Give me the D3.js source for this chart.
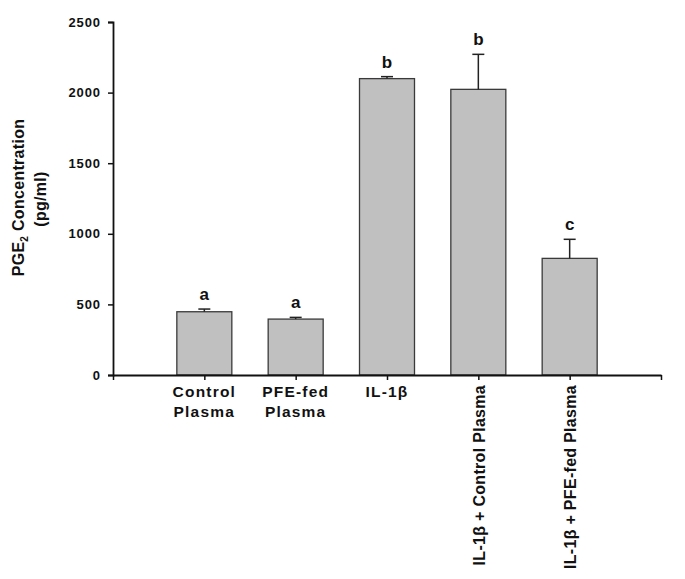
<!DOCTYPE html>
<html>
<head>
<meta charset="utf-8">
<script src="https://cdn.jsdelivr.net/npm/d3@7"></script>
<style>
  html, body { margin: 0; padding: 0; background: #fff; }
  svg { display: block; }
  text { font-family: "Liberation Sans", Arial, sans-serif; font-weight: bold; fill: #111; }
</style>
</head>
<body>
<svg id="chart" width="685" height="579"></svg>
<script>
// ---- data ----
const categories = ["Control Plasma", "PFE-fed Plasma", "IL-1β", "IL-1β + Control Plasma", "IL-1β + PFE-fed Plasma"];
const labelLines = [["Control", "Plasma"], ["PFE-fed", "Plasma"], ["IL-1β"], ["IL-1β + Control Plasma"], ["IL-1β + PFE-fed Plasma"]];
const values = [448, 396, 2099, 2023, 826];
const errors = [19, 12, 14, 248, 135];
const letters = ["a", "a", "b", "b", "c"];
const yTicks = [0, 500, 1000, 1500, 2000, 2500];
const yTitle = ["PGE", "2", " Concentration"];
const yUnits = "(pg/ml)";

// ---- layout ----
const svg = d3.select("#chart");
const x0 = 113, x1 = 661, yBase = 375, yTop = 22;
const x = d3.scaleLinear().domain([0, categories.length + 1]).range([x0, x1]);
const y = d3.scaleLinear().domain([0, 2500]).range([yBase, yTop]);
const barW = 55, capW = 12;

const data = categories.map((c, i) => ({c, i, v: values[i], e: errors[i], l: letters[i], lines: labelLines[i]}));

// bars
svg.append("g").selectAll("rect").data(data).join("rect")
  .attr("x", d => x(d.i + 1) - barW / 2)
  .attr("y", d => y(d.v))
  .attr("width", barW)
  .attr("height", d => y(0) - y(d.v))
  .attr("fill", "#c0c0c0")
  .attr("stroke", "#3a3a3a")
  .attr("stroke-width", 1.3);

// error bars (upper only)
const eg = svg.append("g").attr("stroke", "#222").attr("stroke-width", 1.5);
eg.selectAll("line.v").data(data).join("line").attr("class", "v")
  .attr("x1", d => x(d.i + 1)).attr("x2", d => x(d.i + 1))
  .attr("y1", d => y(d.v)).attr("y2", d => y(d.v + d.e));
eg.selectAll("line.c").data(data).join("line").attr("class", "c")
  .attr("x1", d => x(d.i + 1) - capW / 2).attr("x2", d => x(d.i + 1) + capW / 2)
  .attr("y1", d => y(d.v + d.e)).attr("y2", d => y(d.v + d.e));

// significance letters
svg.append("g").selectAll("text").data(data).join("text")
  .attr("x", d => x(d.i + 1))
  .attr("y", d => y(d.v + d.e) - 9)
  .attr("text-anchor", "middle")
  .style("font-size", "17px")
  .text(d => d.l);

// y axis
const yAxis = svg.append("g").attr("transform", `translate(${x0},0)`)
  .call(d3.axisLeft(y).tickValues(yTicks).tickSize(5).tickPadding(7).tickFormat(d3.format("d")));
yAxis.select(".domain").attr("stroke", "#111").attr("stroke-width", 1.8);
yAxis.selectAll(".tick line").attr("stroke", "#111").attr("stroke-width", 1.5);
yAxis.selectAll(".tick text")
  .style("font-family", '"Liberation Sans", Arial, sans-serif')
  .style("font-weight", "bold").style("font-size", "13px")
  .style("letter-spacing", "0.9px").attr("fill", "#111");

// x axis
const xAxis = svg.append("g").attr("transform", `translate(0,${yBase})`)
  .call(d3.axisBottom(x).tickValues(d3.range(0, categories.length + 2)).tickSize(5).tickSizeOuter(0).tickFormat(""));
xAxis.select(".domain").attr("stroke", "#111").attr("stroke-width", 1.8);
xAxis.selectAll(".tick line").attr("stroke", "#111").attr("stroke-width", 1.5);

// x labels
const lg = svg.append("g");
data.forEach(d => {
  const cx = x(d.i + 1);
  if (d.lines.length === 1 && d.lines[0].length > 10) {
    lg.append("text")
      .attr("transform", `translate(${cx + 6.5},385) rotate(-90)`)
      .attr("text-anchor", "end")
      .style("font-size", "16px")
      .style("letter-spacing", "0.3px")
      .text(d.lines[0]);
  } else {
    d.lines.forEach((t, k) => {
      lg.append("text")
        .attr("x", cx).attr("y", 397 + k * 19.5)
        .attr("text-anchor", "middle")
        .style("font-size", "15.5px")
        .style("letter-spacing", "1.2px")
        .text(t);
    });
  }
});

// y title
const t1 = svg.append("text")
  .attr("transform", "translate(23.5,197.5) rotate(-90)")
  .attr("text-anchor", "middle")
  .style("font-size", "16px")
  .style("letter-spacing", "0.3px");
t1.append("tspan").text(yTitle[0]);
t1.append("tspan").attr("dy", 4).style("font-size", "10px").text(yTitle[1]);
t1.append("tspan").attr("dy", -4).text(yTitle[2]);

svg.append("text")
  .attr("transform", "translate(46,199) rotate(-90)")
  .attr("text-anchor", "middle")
  .style("font-size", "16px")
  .style("letter-spacing", "0.3px")
  .text(yUnits);
</script>
</body>
</html>
